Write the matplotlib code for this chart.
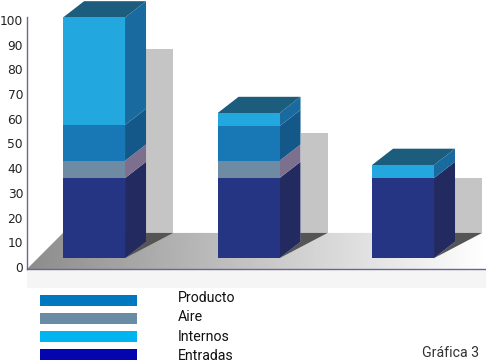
import matplotlib
matplotlib.use('Agg')
import matplotlib.pyplot as plt
import numpy as np
from matplotlib.patches import Polygon, Rectangle

W, H = 486, 363

# values, top edge of each stacked segment
positions = [0, 1, 2]
entradas = [36, 36, 36]
aire = [7, 7, 0]
producto = [14.5, 14, 0]
internos = [43.5, 5.3, 5.3]
sombra = [88.3, 54.3, 36]
yticks = [0, 10, 20, 30, 40, 50, 60, 70, 80, 90, 100]
legend_labels = ['Producto', 'Aire', 'Internos', 'Entradas']
legend_colors = ['#0078bf', '#6a8ba4', '#00b4f0', '#0505b0']

BASE = 3.6
FLOOR = 13.8
BAR_W = 0.401
DX = 0.136
DY = 6.6

front = ['#263583', '#6e8ba3', '#1878b5', '#22a7de']
side = ['#222a5f', '#7d6f8e', '#14588a', '#186a9f']
top_c = '#1c5c7c'


def fx(px):
    return px / W


def fy(py):
    return 1 - py / H


fig = plt.figure(figsize=(W / 100, H / 100), dpi=100)
ax = fig.add_axes([fx(27), fy(269), fx(486 - 27), fy(17) - fy(269)])
ax.set_xlim(-0.434, 2.537)
ax.set_ylim(-0.8, 101.2)
ax.patch.set_alpha(0)

# floor, gradient clipped to the parallelogram
x0, x1 = ax.get_xlim()
y0 = ax.get_ylim()[0]
grad = np.linspace(0.55, 1.0, 256).reshape(1, -1)
im = ax.imshow(grad, extent=[x0, x1, y0, FLOOR], aspect='auto', cmap='gray',
               vmin=0, vmax=1, zorder=1)
floor = Polygon([(x0, y0), (x0 + 0.233, FLOOR), (x1, FLOOR), (x1, y0)],
                transform=ax.transData, fc='none', ec='none')
ax.add_patch(floor)
im.set_clip_path(floor)
ax.set_xlim(x0, x1)
ax.set_ylim(-0.8, 101.2)

# pale band under the floor
ax.add_patch(Rectangle((x0, y0), x1 - x0, -7.6, fc='#f5f5f5', ec='none',
                       clip_on=False, zorder=0))

for i, x in enumerate(positions):
    r = x + BAR_W / 2
    # wall shadow behind each column
    ax.bar(r + DX, sombra[i] - FLOOR, width=0.175, bottom=FLOOR, align='edge',
           color='#c5c5c5', zorder=2)
    # shadow on the floor
    ax.add_patch(Polygon([(r, BASE), (r + DX + 0.175, FLOOR), (r + DX, FLOOR), (r + DX, BASE + DY)],
                         fc='#555555', ec='none', zorder=3))

    bottom = BASE
    tops = np.cumsum([entradas[i], aire[i], producto[i], internos[i]])
    for j, t in enumerate(tops):
        if t <= bottom:
            continue
        ax.bar(x, t - bottom, width=BAR_W, bottom=bottom, color=front[j],
               zorder=5, clip_on=False)
        ax.add_patch(Polygon([(r, bottom), (r + DX, bottom + DY), (r + DX, t + DY), (r, t)],
                             fc=side[j], ec='none', zorder=4, clip_on=False))
        bottom = t
    l = x - BAR_W / 2
    ax.add_patch(Polygon([(l, bottom), (l + DX, bottom + DY), (r + DX, bottom + DY), (r, bottom)],
                         fc=top_c, ec='none', zorder=4, clip_on=False))

for s in ['top', 'right']:
    ax.spines[s].set_visible(False)
for s in ['left', 'bottom']:
    ax.spines[s].set_color('#6d6591')
    ax.spines[s].set_linewidth(1.0)
    ax.spines[s].set_zorder(6)
ax.set_xticks([])
ax.set_yticks(yticks)
ax.tick_params(axis='y', length=0, pad=2.8, labelsize=8.8, labelcolor='#222222')

# legend drawn by hand, the swatches are far from the labels
for i, (lab, col) in enumerate(zip(legend_labels, legend_colors)):
    py = 295 + i * 18
    fig.add_artist(Rectangle((fx(40), fy(py + 11)), fx(97), fy(py) - fy(py + 11),
                             transform=fig.transFigure, fc=col, ec='none'))
    fig.text(fx(178), fy(298 + i * 19.3), lab, fontsize=10.2, family='Roboto',
             color='#111111', va='center', ha='left')

fig.text(fx(422), fy(353), 'Gráfica 3', fontsize=10.2, family='Roboto',
         color='#333333', va='center', ha='left')

fig.savefig('out.png', dpi=100)
